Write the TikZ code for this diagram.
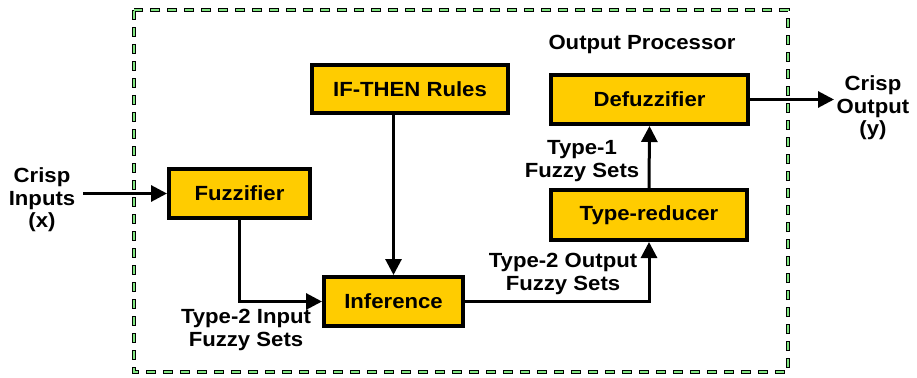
\documentclass[tikz,border=0pt]{standalone}
\usepackage{fontspec}
\setmainfont{Liberation Sans}[FakeStretch=1.08]
\usetikzlibrary{arrows.meta}
\definecolor{boxfill}{RGB}{255,204,0}
\definecolor{dashgreen}{RGB}{130,230,130}
\begin{document}
\begin{tikzpicture}[x=1pt,y=-1pt,
  blk/.style={draw=black,line width=4pt,fill=boxfill,inner sep=0pt,
    font=\fontsize{20.5}{22}\selectfont\bfseries},
  lbl/.style={align=center,inner sep=0pt,font=\fontsize{20.5}{22.5}\selectfont\bfseries},
  arr/.style={line width=3pt,-{Triangle[length=16pt,width=16pt]}},
  dashout/.style={draw=black,line width=3.4pt,dash pattern=on 10pt off 7pt},
  dashin/.style={draw=dashgreen,line width=1.6pt,dash pattern=on 8.4pt off 8.6pt,dash phase=-0.8pt}]
\useasboundingbox (0,0) rectangle (917,377);
\draw[dashout] (134,10) rectangle (788,372);
\draw[dashin] (134,10) rectangle (788,372);
\node[blk,minimum width=196pt,minimum height=48pt] (rules) at (410,89) {IF-THEN Rules};
\node[blk,minimum width=141pt,minimum height=49pt] (fuzz) at (239.5,193.5) {Fuzzifier};
\node[blk,minimum width=139pt,minimum height=49pt] (inf) at (393.5,301.5) {Inference};
\node[blk,minimum width=197pt,minimum height=49pt] (defuzz) at (649.5,99.5) {Defuzzifier};
\node[blk,minimum width=196pt,minimum height=50pt] (tr) at (649,215) {Type-reducer};
\coordinate (cin) at (83,193.5);
\coordinate (cout) at (834,99.5);
\node[lbl] (tin) at (42,200) {Crisp\\Inputs\\(x)};
\node[lbl] (tout) at (873,108) {Crisp\\Output\\(y)};
\node[lbl] (op) at (642,44) {Output Processor};
\node[lbl] (t1) at (582,161) {Type-1\\Fuzzy Sets};
\node[lbl] (t2o) at (563,274) {Type-2 Output\\Fuzzy Sets};
\node[lbl] (t2i) at (246,330) {Type-2 Input\\Fuzzy Sets};
\draw[arr] (cin) -- (fuzz.west);
\draw[arr] (fuzz.south) |- (inf.west);
\draw[arr] (rules.south -| inf.north) -- (inf.north);
\draw[arr] (inf.east) -| (tr.south);
\draw[arr] (tr.north) -- (defuzz.south);
\draw[arr] (defuzz.east) -- (cout);
\end{tikzpicture}
\end{document}
